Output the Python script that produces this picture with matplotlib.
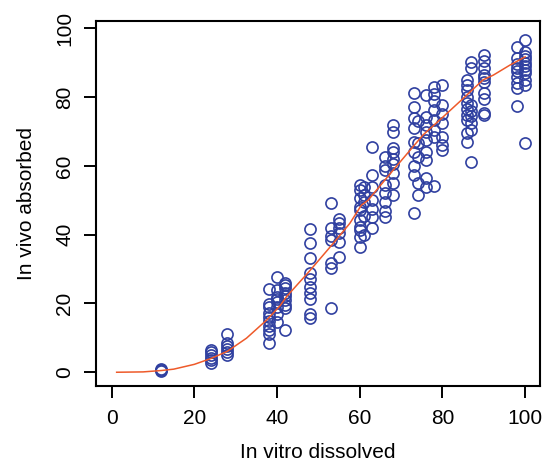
import matplotlib
matplotlib.use('Agg')
import matplotlib.pyplot as plt

plt.rcParams['font.family'] = ['Liberation Sans', 'DejaVu Sans']

# observed points, one list of y values per in vitro level
x_levels = [12, 24, 28, 38, 40, 42, 48, 53, 55, 60, 61, 63, 66, 68,
            73, 74, 76, 78, 80, 86, 87, 90, 98, 100]
y_by_level = [
    [0.3, 0.6, 0.9],
    [2.8, 3.5, 4.2, 5.0, 5.8, 6.6],
    [5.0, 5.8, 6.8, 7.6, 8.6, 11.0],
    [8.6, 11.0, 12.2, 13.5, 15.0, 16.2, 17.2, 19.1, 19.8, 24.1],
    [14.6, 16.8, 19.0, 20.5, 21.2, 22.0, 23.9, 27.8],
    [12.3, 18.7, 19.5, 21.0, 22.3, 23.0, 24.5, 25.5, 26.0],
    [15.8, 17.0, 21.2, 23.0, 24.9, 27.0, 28.8, 33.1, 37.5, 41.6],
    [18.6, 30.3, 31.8, 38.5, 39.5, 42.0, 49.3],
    [33.5, 38.0, 40.5, 42.0, 43.4, 44.6],
    [36.5, 39.4, 41.4, 42.3, 44.3, 47.2, 48.1, 50.6, 53.0, 54.4],
    [40.0, 45.5, 49.5, 51.5, 54.0],
    [42.0, 45.0, 47.5, 50.0, 54.0, 57.4, 65.6],
    [45.2, 47.0, 49.4, 52.0, 54.4, 58.8, 60.0, 62.7],
    [51.5, 55.0, 58.0, 60.5, 62.0, 64.0, 65.2, 69.9, 71.9],
    [46.3, 57.4, 60.0, 64.0, 67.0, 71.0, 74.0, 77.2, 81.3],
    [51.5, 55.0, 62.5, 66.6, 73.0],
    [54.0, 56.5, 61.7, 64.0, 67.5, 70.0, 72.0, 74.3, 80.6],
    [54.2, 68.5, 70.5, 73.3, 76.2, 79.0, 81.0, 83.0],
    [64.6, 66.0, 68.5, 72.4, 75.0, 77.7, 83.5],
    [67.0, 69.5, 73.3, 74.8, 76.5, 78.3, 80.0, 82.0, 83.5, 85.0],
    [61.2, 70.4, 72.5, 74.5, 76.0, 77.7, 88.4, 90.3],
    [74.8, 75.3, 79.5, 81.2, 84.5, 85.5, 86.4, 88.5, 90.5, 92.2],
    [77.5, 82.6, 84.0, 86.0, 87.5, 88.5, 89.5, 91.4, 94.7],
    [66.7, 83.5, 85.0, 87.0, 88.0, 89.0, 90.0, 91.0, 92.0, 93.2, 96.6],
]

# fitted curve
curve_x = [1.2, 7.6, 12, 15, 20, 24, 28, 32.6, 37.5, 40.7, 42.3, 47.9, 53.6,
           57.6, 60.4, 62, 68.1, 75.3, 80.2, 85, 89.8, 92.3, 96.3, 100]
curve_y = [0, 0.1, 0.5, 0.9, 2.3, 4.0, 6.1, 9.9, 15.2, 19.3, 22.0, 29.5, 37.5,
           43.3, 48.6, 50.0, 58.8, 69.0, 74.3, 79.6, 85.0, 86.4, 89.3, 91.7]

ticks = [0, 20, 40, 60, 80, 100]

fig = plt.figure(figsize=(5.43, 4.62), dpi=100)
ax = fig.add_axes([0.176, 0.1645, 0.8185, 0.7905])

for xv, ys in zip(x_levels, y_by_level):
    ax.plot([xv] * len(ys), ys, 'o', ms=8, mfc='none', mec='#3040A0', mew=1.2)

ax.plot(curve_x, curve_y, color='#EE5A2A', lw=1.1)

ax.set_xlim(-3.9, 103.6)
ax.set_ylim(-4.0, 102.2)
ax.set_xticks(ticks)
ax.set_yticks(ticks)
ax.set_xticklabels([str(t) for t in ticks], fontsize=15)
ax.set_yticklabels([str(t) for t in ticks], fontsize=15, rotation=90, va='center')
ax.tick_params(direction='out', length=8.5, width=1.4)
ax.tick_params(axis='x', pad=8)
ax.tick_params(axis='y', pad=7)
for s in ax.spines.values():
    s.set_linewidth(1.5)

ax.set_xlabel('In vitro dissolved', fontsize=15, labelpad=11)
ax.set_ylabel('In vivo absorbed', fontsize=15, labelpad=14)

plt.savefig('out.png', dpi=100)
